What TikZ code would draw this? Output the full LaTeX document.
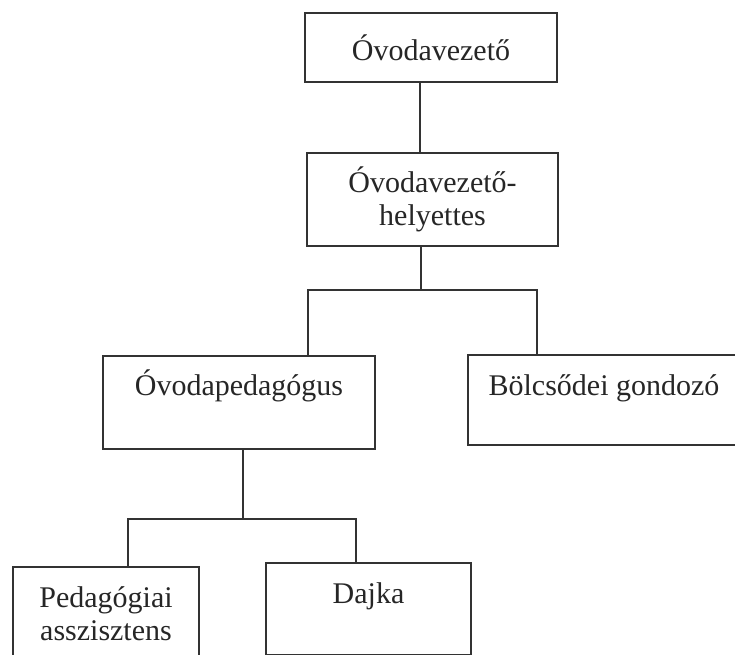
\documentclass[tikz,border=0pt]{standalone}
\usepackage{fontspec}
\setmainfont{Liberation Serif}
\begin{document}
\begin{tikzpicture}[x=1pt,y=-1pt,
  orgbox/.style={draw=black!80,line width=2.2pt,inner sep=0pt,align=center,text=black!85,
    font=\fontsize{30}{33}\selectfont},
  link/.style={draw=black!80,line width=2.2pt}]
\clip (0,0) rectangle (735,654);

% boxes
\node[orgbox,minimum width=252pt,minimum height=69pt] (vez) at (431,47.5) {Óvodavezető};
\node[orgbox,minimum width=251pt,minimum height=93pt] (hely) at (432.5,199.5) {Óvodavezető-\\helyettes};
\node[orgbox,minimum width=272pt,text height=39pt,text depth=54pt] (ped) at (239,402.5) {Óvodapedagógus};
\node[orgbox,minimum width=272pt,text height=40pt,text depth=50pt] (bol) at (604,400) {Bölcsődei gondozó};
\node[orgbox,minimum width=186pt,minimum height=93pt] (asz) at (106,613.5) {Pedagógiai\\asszisztens};
\node[orgbox,minimum width=205pt,text height=40pt,text depth=52pt] (daj) at (368.5,609) {Dajka};

% junctions
\coordinate (x1) at (420,0);
\coordinate (bar1) at (421,290);
\coordinate (bar1l) at (308,290);
\coordinate (bar1r) at (537,290);
\coordinate (bar2) at (243,519);
\coordinate (bar2l) at (128,519);
\coordinate (bar2r) at (356,519);

% connectors
\draw[link] (vez.south -| x1) -- (hely.north -| x1);
\draw[link] (hely.south -| bar1) -- (bar1);
\draw[link] (ped.north -| bar1l) -- (bar1l) -- (bar1r) -- (bol.north -| bar1r);
\draw[link] (ped.south -| bar2) -- (bar2);
\draw[link] (asz.north -| bar2l) -- (bar2l) -- (bar2r) -- (daj.north -| bar2r);
\end{tikzpicture}
\end{document}
